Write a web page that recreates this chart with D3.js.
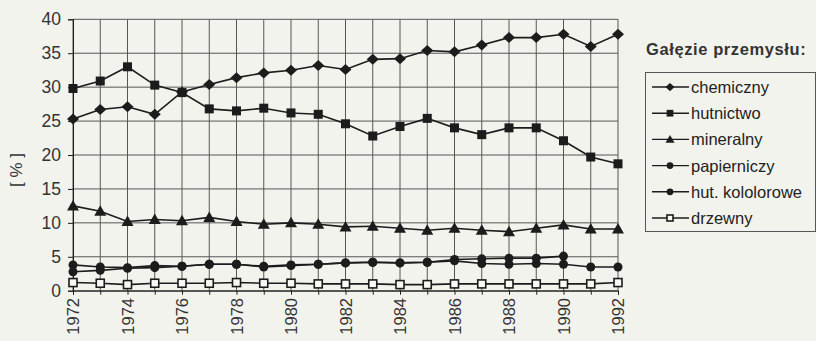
<!DOCTYPE html>
<html><head><meta charset="utf-8">
<script src="https://cdn.jsdelivr.net/npm/d3@7"></script>
<style>body{margin:0;background:#f3f3ee;}svg{display:block;}</style>
</head><body>
<svg id="c" width="816" height="341"></svg>
<script>
const years = d3.range(1972, 1993);
const yTicks = [0,5,10,15,20,25,30,35,40];
const xLabelYears = [1972,1974,1976,1978,1980,1982,1984,1986,1988,1990,1992];
const seriesNames = ["chemiczny","hutnictwo","mineralny","papierniczy","hut. kololorowe","drzewny"];
const chemiczny = [25.3,26.7,27.1,26.0,29.3,30.4,31.4,32.1,32.5,33.2,32.6,34.1,34.2,35.4,35.2,36.2,37.3,37.3,37.8,36.0,37.8];
const hutnictwo = [29.8,30.9,33.0,30.3,29.2,26.8,26.5,26.9,26.2,26.0,24.6,22.8,24.2,25.4,24.0,23.0,24.0,24.0,22.1,19.7,18.7];
const mineralny = [12.5,11.7,10.2,10.5,10.3,10.8,10.2,9.8,10.0,9.8,9.4,9.5,9.2,8.9,9.2,8.9,8.7,9.2,9.7,9.1,9.1];
const papierniczy = [3.8,3.5,3.4,3.7,3.6,3.9,3.9,3.6,3.8,3.9,4.1,4.2,4.1,4.2,4.4,4.0,3.9,4.0,3.9,3.5,3.5];
const hutKolorowe = [2.8,3.0,3.3,3.4,3.6,3.9,3.9,3.5,3.7,3.9,4.1,4.2,4.1,4.2,4.6,4.7,4.8,4.8,5.1,null,null];
const drzewny = [1.2,1.1,0.9,1.1,1.1,1.1,1.2,1.1,1.1,1.0,1.0,1.0,0.9,0.9,1.0,1.0,1.0,1.0,1.0,1.0,1.2];
const seriesValues = [chemiczny,hutnictwo,mineralny,papierniczy,hutKolorowe,drzewny];
const markerTypes = ["diamond","square","triangle","circle","circle","openSquare"];

const svg = d3.select("#c");
const font = "Liberation Sans, Arial, sans-serif";
const ink = "#1c1c1c";
const x = d3.scaleLinear().domain([1972,1992]).range([73,618]);
const y = d3.scaleLinear().domain([0,40]).range([290.7,19.3]);

// grid
const g = svg.append("g");
g.selectAll(".vg").data(years).enter().append("line")
  .attr("x1",d=>x(d)).attr("x2",d=>x(d)).attr("y1",y(40)).attr("y2",y(0))
  .attr("stroke","#555").attr("stroke-width",1);
g.selectAll(".hg").data(yTicks).enter().append("line")
  .attr("x1",x(1972)).attr("x2",x(1992)).attr("y1",d=>y(d)).attr("y2",d=>y(d))
  .attr("stroke","#555").attr("stroke-width",1);

// y axis
const ya = svg.append("g").attr("transform",`translate(${x(1972)},0)`)
  .call(d3.axisLeft(y).tickValues(yTicks).tickSize(5).tickPadding(7));
ya.select(".domain").attr("stroke",ink);
ya.selectAll("line").attr("stroke",ink);
ya.selectAll("text").attr("font-family",font).attr("font-size",17.5).attr("fill","#333");

// x axis
const xa = svg.append("g").attr("transform",`translate(0,${y(0)})`)
  .call(d3.axisBottom(x).tickValues(years).tickSize(4).tickFormat(""));
xa.select(".domain").attr("stroke",ink);
xa.selectAll("line").attr("stroke",ink);
svg.append("g").selectAll("text").data(xLabelYears).enter().append("text")
  .attr("transform",d=>`translate(${x(d)+6},298) rotate(-90)`)
  .attr("text-anchor","end").attr("font-family",font).attr("font-size",16.5).attr("fill","#333")
  .text(d=>d);

// y label
svg.append("text").attr("transform","translate(22,170) rotate(-90)")
  .attr("text-anchor","middle").attr("font-family",font).attr("font-size",17).attr("fill","#333")
  .text("[ % ]");

function drawMarker(sel, type, s) {
  if (type === "diamond") sel.append("path").attr("d", `M${-6*s},0L0,${-5.5*s}L${6*s},0L0,${5.5*s}Z`).attr("fill",ink);
  else if (type === "square") sel.append("rect").attr("x",-4.5*s).attr("y",-4.5*s).attr("width",9*s).attr("height",9*s).attr("fill",ink);
  else if (type === "triangle") sel.append("path").attr("d", `M0,${-6*s}L${6*s},${4.5*s}L${-6*s},${4.5*s}Z`).attr("fill",ink);
  else if (type === "circle") sel.append("circle").attr("r",4.5*s).attr("fill",ink);
  else if (type === "openSquare") sel.append("rect").attr("x",-4*s).attr("y",-4*s).attr("width",8*s).attr("height",8*s).attr("fill","#fafaf5").attr("stroke",ink).attr("stroke-width",1.6);
}

const line = d3.line().defined(d=>d.v!==null).x(d=>x(d.yr)).y(d=>y(d.v));
seriesValues.forEach((vals,i)=>{
  const data = years.map((yr,k)=>({yr, v: vals[k]}));
  svg.append("path").datum(data).attr("d",line).attr("fill","none").attr("stroke",ink).attr("stroke-width",1.6);
  const pts = svg.append("g").selectAll("g").data(data.filter(d=>d.v!==null)).enter().append("g")
    .attr("transform",d=>`translate(${x(d.yr)},${y(d.v)})`);
  pts.each(function(){ drawMarker(d3.select(this), markerTypes[i], 1); });
});

// legend
svg.append("text").attr("x",646).attr("y",55).attr("font-family",font).attr("font-size",16.5)
  .attr("font-weight","bold").attr("fill","#333").attr("letter-spacing",0.6).text("Gałęzie  przemysłu:");
svg.append("rect").attr("x",645.5).attr("y",72.5).attr("width",170).attr("height",159)
  .attr("fill","none").attr("stroke","#555").attr("stroke-width",1);
const leg = svg.append("g").selectAll("g").data(seriesNames).enter().append("g")
  .attr("transform",(d,i)=>`translate(0,${87+i*26.2})`);
leg.append("line").attr("x1",652).attr("x2",689).attr("y1",0).attr("y2",0).attr("stroke",ink).attr("stroke-width",1.4);
leg.each(function(d,i){ const m=d3.select(this).append("g").attr("transform","translate(670,0)"); drawMarker(m, markerTypes[i], 0.75); });
leg.append("text").attr("x",691).attr("y",6).attr("font-family",font).attr("font-size",16.5).attr("fill","#222").text(d=>d);
</script>
</body></html>
